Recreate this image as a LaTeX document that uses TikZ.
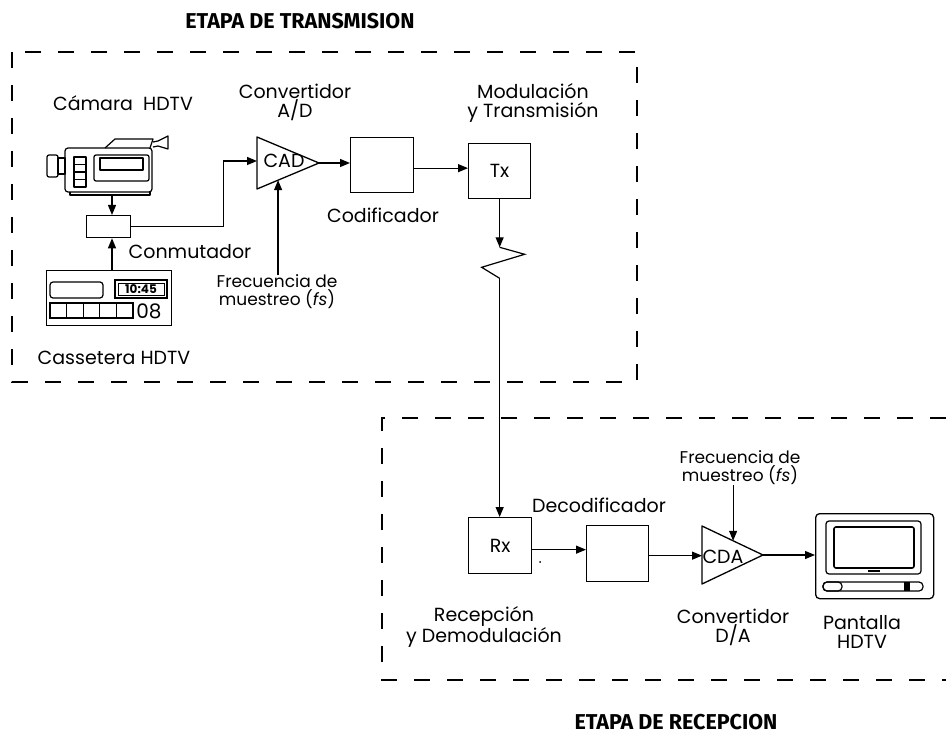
\documentclass[tikz,border=0pt]{standalone}
\usepackage{fontspec}
\setmainfont{Poppins}
\newfontfamily\titlefont{Fira Sans}
\usetikzlibrary{arrows.meta,calc}

\begin{document}
\begin{tikzpicture}[x=1pt,y=-1pt,
  lbl/.style={font=\fontsize{19}{19}\selectfont, align=center, inner sep=0},
  small/.style={lbl, font=\fontsize{17}{18}\selectfont},
  ttl/.style={font=\titlefont\bfseries\fontsize{21.5}{22}\selectfont, inner sep=0},
  blk/.style={draw, line width=1.3pt, inner sep=0, anchor=north west},
  conn/.style={line width=1.2pt, -{Triangle[length=10pt,width=8pt]}},
  plain/.style={line width=1.2pt},
  part/.style={line width=1.2pt},
  stage/.style={line width=2.6pt, dash pattern=on 16pt off 17pt}]
\useasboundingbox (0,0) rectangle (946,741);

% ---- stage frames ----
\draw[stage] (12,52) rectangle (637,382);
\draw[stage] (946,418) -- (382,418) -- (382,680) -- (946,680);
\node[ttl] (ttx) at (300,21) {ETAPA DE TRANSMISION};
\node[ttl] (trx) at (676,722) {ETAPA DE RECEPCION};

% ---- HDTV camera ----
\begin{scope}[part, line join=round]
  \draw[rounded corners=2] (47,155) rectangle (58,177);
  \draw (58,158) rectangle (65,174);
  \draw[rounded corners=3] (65,148) rectangle (152,192);
  \draw (70,192) -- (70,195) -- (150,195) -- (150,192);
  \draw (74,157) rectangle (86,187);
  \foreach \yy in {164.5,172,179.5} \draw (74,\yy) -- (86,\yy);
  \draw[rounded corners=2] (94,155) rectangle (149,181);
  \draw (100,158) rectangle (143,170);
  \draw (105,148) -- (115,139) -- (153,139) -- (150,148);
  \draw (153,142) -- (158,141) -- (168,136) -- (168,149) -- (158,146) -- (153,147);
\end{scope}
\coordinate (cam) at (112,195);
\node[lbl] (lcam) at (123,103) {Cámara\ \ HDTV};

% ---- HDTV cassette recorder ----
\node[blk, minimum width=125, minimum height=55] (vcr) at (46,270) {};
\begin{scope}[part]
  \draw[rounded corners=3] (50,282) rectangle (103,298);
  \draw[line width=2pt] (115,280) rectangle (167,298);
  \draw[line width=0.8pt] (118,283) rectangle (164,295);
  \draw (50,303) rectangle (133,318);
  \foreach \xx in {66.6,83.2,99.8,116.4} \draw (\xx,303) -- (\xx,318);
\end{scope}
\node[font=\fontsize{12}{12}\selectfont\bfseries, inner sep=0] (clock) at (141,289.5) {10:45};
\node[font=\fontsize{20}{20}\selectfont, inner sep=0] (tape) at (149,311) {08};
\node[lbl] (lvcr) at (114,358) {Cassetera HDTV};

% ---- switch ----
\node[blk, minimum width=44, minimum height=22] (sw) at (86,215) {};
\node[lbl] (lsw) at (190,252) {Conmutador};
\draw[conn] (cam) -- (cam |- sw.north);
\draw[conn] (vcr.north -| cam) -- (cam |- sw.south);

% ---- A/D converter ----
\coordinate (cadT) at (257,137);
\coordinate (cadB) at (257,189);
\coordinate (cadA) at (319,163);
\coordinate (cadin) at (257,161);
\draw[line width=1.3pt, line join=round] (cadT) -- (cadA) -- (cadB) -- cycle;
\node[lbl] (tcad) at (284,161) {CAD};
\coordinate (cadfs) at ($(cadB)!0.34!(cadA)$);
\node[lbl] (lcad) at (295,102) {Convertidor\\A/D};
\node[small] (fsA) at (277,292) {Frecuencia de\\muestreo (\textit{fs})};
\draw[conn] (sw.east) -- ++(92,0) |- (cadin);
\draw[conn] (fsA.north -| cadfs) -- (cadfs);

% ---- encoder and transmitter ----
\node[blk, minimum width=63, minimum height=55] (cod) at (350,137) {};
\node[lbl] (lcod) at (383,215) {Codificador};
\node[blk, minimum width=62, minimum height=55] (tx) at (468,143) {};
\node[lbl] (ttxb) at (tx.center) {Tx};
\node[lbl] (ltx) at (533,103) {Modulación\\y Transmisión};
\draw[conn] (cadA) -- (cadA -| cod.west);
\draw[conn] ($(cod.east)+(0,3)$) coordinate (c1) -- (c1 -| tx.west);

% ---- radio link ----
\draw[conn] (tx.south) -- ++(0,48) coordinate (z0);
\draw[plain, line join=miter] (z0) -- ++(25,7) -- ++(-43,13) -- ++(18,11) coordinate (z3);

% ---- receiver ----
\node[blk, minimum width=63, minimum height=56] (rx) at (468,517) {};
\node[lbl] (trxb) at (rx.center) {Rx};
\node[lbl] (lrx) at (484,627) {Recepción\\y Demodulación};
\draw[conn] (z3) -- (z3 |- rx.north);
\fill (540,562) circle (1);

% ---- decoder ----
\node[blk, minimum width=62, minimum height=56] (dec) at (586,525) {};
\node[lbl] (ldec) at (599,505) {Decodificador};
\draw[conn] ($(rx.east)+(0,4)$) coordinate (c2) -- (c2 -| dec.west);

% ---- D/A converter ----
\coordinate (cdaT) at (702,526);
\coordinate (cdaB) at (702,584);
\coordinate (cdaA) at (763,555);
\draw[line width=1.3pt, line join=round] (cdaT) -- (cdaA) -- (cdaB) -- cycle;
\node[lbl] (tcda) at (723,557) {CDA};
\coordinate (cdafs) at ($(cdaT)!0.51!(cdaA)$);
\node[small] (fsD) at (740,468) {Frecuencia de\\muestreo (\textit{fs})};
\node[lbl] (lcda) at (733,627) {Convertidor\\D/A};
\draw[conn] ($(dec.east)+(0,2)$) coordinate (c3) -- (c3 -| cdaT);
\draw[conn] (fsD.south -| cdafs) -- (cdafs);

% ---- HDTV display ----
\node[blk, rounded corners=4, minimum width=118, minimum height=85] (tv) at (815,513) {};
\begin{scope}[part]
  \draw[rounded corners=3] (826,521) rectangle (921,574);
  \draw[line width=1.6pt, rounded corners=2] (834,527) rectangle (914,568);
  \draw (868,571) -- (880,571);
  \draw[rounded corners=4] (823,582) rectangle (923,591);
  \draw[rounded corners=4] (823,582) rectangle (842,591);
  \fill (904,582) rectangle (910,591);
\end{scope}
\node[lbl] (ltv) at (862,632) {Pantalla\\HDTV};
\draw[conn] (cdaA) -- (cdaA -| tv.west);
\end{tikzpicture}
\end{document}
